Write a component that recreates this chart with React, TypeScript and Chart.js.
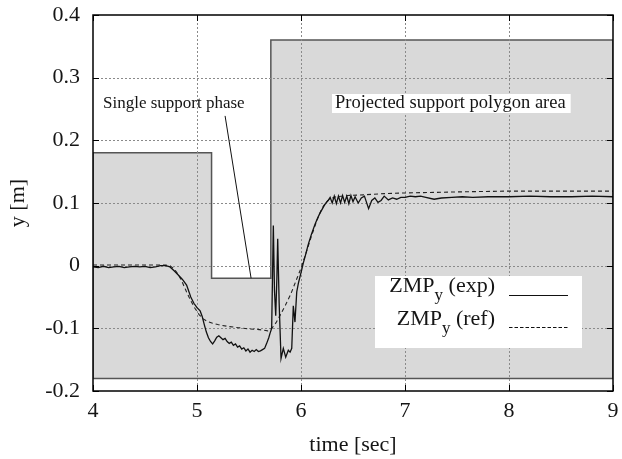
import React, { useEffect, useRef } from "react";
import { Chart, registerables } from "chart.js";

Chart.register(...registerables);

// ---- data ----
const expTime = [
  4.0, 4.05, 4.1, 4.15, 4.2, 4.25, 4.3, 4.35, 4.4, 4.45, 4.5, 4.55, 4.6, 4.65, 4.7, 4.74,
  4.78, 4.82, 4.86, 4.9, 4.94, 4.97, 5.0, 5.03, 5.05, 5.07, 5.09, 5.11, 5.13, 5.15, 5.17,
  5.19, 5.21, 5.23, 5.25, 5.27, 5.29, 5.31, 5.33, 5.35, 5.37, 5.39, 5.41, 5.43, 5.45, 5.47,
  5.49, 5.51, 5.53, 5.55, 5.57, 5.59, 5.61, 5.63, 5.65, 5.67, 5.69, 5.702, 5.718, 5.734,
  5.745, 5.757, 5.768, 5.776, 5.79, 5.808, 5.83, 5.853, 5.878, 5.895, 5.911, 5.926, 5.942,
  5.959, 5.975, 5.99, 6.005, 6.022, 6.045, 6.07, 6.1, 6.135, 6.16, 6.18, 6.2, 6.22, 6.24,
  6.26, 6.28, 6.3, 6.32, 6.34, 6.36, 6.38, 6.4, 6.42, 6.44, 6.46, 6.48, 6.5, 6.52, 6.55,
  6.58, 6.61, 6.65, 6.68, 6.71, 6.74, 6.77, 6.8, 6.84, 6.88, 6.92, 6.96, 7.0, 7.05, 7.1,
  7.15, 7.2, 7.28, 7.35, 7.45, 7.55, 7.65, 7.8, 8.0, 8.2, 8.4, 8.6, 8.8, 9.0,
];
const expY = [
  -0.002, -0.003, -0.001, -0.003, -0.002, -0.001, -0.003, -0.002, -0.001, -0.002, -0.001,
  -0.003, -0.002, 0.0, 0.0, -0.002, -0.008, -0.015, -0.022, -0.031, -0.05, -0.06, -0.067,
  -0.072, -0.081, -0.094, -0.106, -0.115, -0.121, -0.125, -0.12, -0.114, -0.112, -0.115,
  -0.118, -0.116, -0.121, -0.124, -0.122, -0.127, -0.125, -0.13, -0.128, -0.133, -0.131,
  -0.136, -0.133, -0.138, -0.135, -0.137, -0.134, -0.137, -0.136, -0.134, -0.132, -0.124,
  -0.115, -0.108, -0.1, 0.064, -0.04, -0.08, -0.02, 0.043, -0.06, -0.148, -0.132, -0.146,
  -0.135, -0.138, -0.132, -0.064, -0.09, -0.042, -0.028, -0.018, -0.008, 0.004, 0.018,
  0.034, 0.05, 0.066, 0.076, 0.083, 0.089, 0.095, 0.1, 0.104, 0.109, 0.1, 0.111, 0.099,
  0.111, 0.1, 0.112, 0.101, 0.111, 0.099, 0.112, 0.102, 0.11, 0.1, 0.108, 0.111, 0.091,
  0.104, 0.108, 0.101, 0.104, 0.111, 0.105, 0.108, 0.106, 0.109, 0.109, 0.111, 0.11,
  0.111, 0.109, 0.106, 0.108, 0.109, 0.11, 0.109, 0.11, 0.11, 0.111, 0.11, 0.11, 0.111, 0.11,
];
const refTime = [
  4.0, 4.2, 4.4, 4.6, 4.7, 4.74, 4.78, 4.82, 4.86, 4.9, 4.94, 4.98, 5.02, 5.06, 5.1, 5.15,
  5.2, 5.3, 5.4, 5.5, 5.6, 5.68, 5.72, 5.76, 5.8, 5.85, 5.9, 5.95, 6.0, 6.05, 6.1, 6.15,
  6.2, 6.24, 6.28, 6.34, 6.45, 6.6, 6.8, 7.0, 7.3, 7.6, 8.0, 8.5, 9.0,
];
const refY = [
  0.001, 0.001, 0.001, 0.001, 0.001, 0.0, -0.005, -0.014, -0.027, -0.042, -0.056, -0.068,
  -0.078, -0.085, -0.089, -0.092, -0.094, -0.097, -0.099, -0.101, -0.102, -0.104, -0.1,
  -0.091, -0.079, -0.063, -0.046, -0.025, -0.004, 0.021, 0.047, 0.071, 0.091, 0.101, 0.107,
  0.11, 0.112, 0.113, 0.115, 0.116, 0.117, 0.118, 0.119, 0.119, 0.119,
];
// projected support polygon outline (closed)
const supportX = [4, 4, 5.14, 5.14, 5.71, 5.71, 9, 9, 4];
const supportY = [-0.18, 0.18, 0.18, -0.02, -0.02, 0.36, 0.36, -0.18, -0.18];

const xTicks = [4, 5, 6, 7, 8, 9];
const xTickLabels = ["4", "5", "6", "7", "8", "9"];
const yTicks = [-0.2, -0.1, 0, 0.1, 0.2, 0.3, 0.4];
const yTickLabels = ["-0.2", "-0.1", "0", "0.1", "0.2", "0.3", "0.4"];

const xTitle = "time [sec]";
const yTitle = "y [m]";

const legendMain = ["ZMP", "ZMP"];
const legendSub = ["y", "y"];
const legendTail = [" (exp)", " (ref)"];

const singleText = "Single support phase";
const singleTextAt = [4.096, 0.2516];
const singlePointerFrom = [5.27, 0.239];
const singlePointerTo = [5.52, -0.02];
const polygonText = "Projected support polygon area";
const polygonTextAt = [6.327, 0.2516];

const FONT = '"Liberation Serif", "Times New Roman", serif';
const TEXT = "#151515";

export default function App() {
  const ref = useRef<HTMLCanvasElement | null>(null);

  useEffect(() => {
    const canvas = ref.current;
    if (!canvas) return;

    const gridPlugin = {
      id: "gridOverFill",
      afterDatasetDraw(chart: any, args: any) {
        if (args.index !== 2) return;
        const { ctx, chartArea: ca, scales } = chart;
        ctx.save();
        ctx.strokeStyle = "#8a8a8a";
        ctx.lineWidth = 1;
        ctx.setLineDash([2, 2]);
        for (const v of xTicks) {
          if (v === xTicks[0] || v === xTicks[xTicks.length - 1]) continue;
          const px = Math.round(scales.x.getPixelForValue(v)) + 0.5;
          ctx.beginPath();
          ctx.moveTo(px, ca.top);
          ctx.lineTo(px, ca.bottom);
          ctx.stroke();
        }
        for (const v of yTicks) {
          if (v === yTicks[0] || v === yTicks[yTicks.length - 1]) continue;
          const py = Math.round(scales.y.getPixelForValue(v)) + 0.5;
          ctx.beginPath();
          ctx.moveTo(ca.left, py);
          ctx.lineTo(ca.right, py);
          ctx.stroke();
        }
        ctx.restore();
      },
    };

    const overlayPlugin = {
      id: "overlay",
      afterDraw(chart: any) {
        const { ctx, chartArea: ca, scales } = chart;
        const X = (v: number) => scales.x.getPixelForValue(v);
        const Y = (v: number) => scales.y.getPixelForValue(v);
        ctx.save();

        // pointer line for single support phase
        ctx.strokeStyle = "#111";
        ctx.lineWidth = 1;
        ctx.setLineDash([]);
        ctx.beginPath();
        ctx.moveTo(X(singlePointerFrom[0]), Y(singlePointerFrom[1]));
        ctx.lineTo(X(singlePointerTo[0]), Y(singlePointerTo[1]));
        ctx.stroke();

        // single support text
        ctx.fillStyle = TEXT;
        ctx.textBaseline = "alphabetic";
        ctx.textAlign = "left";
        ctx.font = `17px ${FONT}`;
        ctx.fillText(singleText, X(singleTextAt[0]), Y(singleTextAt[1]));

        // projected polygon text with white box
        ctx.font = `18.5px ${FONT}`;
        const tx = X(polygonTextAt[0]);
        const ty = Y(polygonTextAt[1]);
        const tw = ctx.measureText(polygonText).width;
        ctx.fillStyle = "#ffffff";
        ctx.fillRect(tx - 3, ty - 14, tw + 8, 19);
        ctx.fillStyle = TEXT;
        ctx.fillText(polygonText, tx, ty);

        // legend box
        const bx = ca.left + 282;
        const by = ca.top + 261;
        ctx.fillStyle = "#ffffff";
        ctx.fillRect(bx, by, 207, 72);
        const textRight = bx + 120;
        for (let i = 0; i < legendMain.length; i++) {
          const base = by + 16 + i * 33;
          ctx.font = `22px ${FONT}`;
          const wMain = ctx.measureText(legendMain[i]).width;
          const wTail = ctx.measureText(legendTail[i]).width;
          ctx.font = `17px ${FONT}`;
          const wSub = ctx.measureText(legendSub[i]).width;
          let x0 = textRight - wTail - wSub - wMain;
          ctx.fillStyle = TEXT;
          ctx.font = `22px ${FONT}`;
          ctx.fillText(legendMain[i], x0, base);
          x0 += wMain;
          ctx.font = `17px ${FONT}`;
          ctx.fillText(legendSub[i], x0, base + 8);
          x0 += wSub;
          ctx.font = `22px ${FONT}`;
          ctx.fillText(legendTail[i], x0, base);
          // sample
          ctx.strokeStyle = "#111";
          ctx.lineWidth = 1.2;
          ctx.setLineDash(i === 0 ? [] : [3.5, 2]);
          ctx.beginPath();
          const sy = by + 19.5 + i * 32;
          ctx.moveTo(bx + 134, sy);
          ctx.lineTo(bx + 193, sy);
          ctx.stroke();
        }

        // frame and inward ticks
        ctx.setLineDash([]);
        ctx.strokeStyle = "#000";
        ctx.lineWidth = 1.5;
        ctx.strokeRect(ca.left, ca.top, ca.right - ca.left, ca.bottom - ca.top);
        ctx.lineWidth = 1;
        const tl = 6;
        for (const v of xTicks) {
          const px = Math.round(X(v)) + 0.5;
          ctx.beginPath();
          ctx.moveTo(px, ca.bottom);
          ctx.lineTo(px, ca.bottom - tl);
          ctx.moveTo(px, ca.top);
          ctx.lineTo(px, ca.top + tl);
          ctx.stroke();
        }
        for (const v of yTicks) {
          const py = Math.round(Y(v)) + 0.5;
          ctx.beginPath();
          ctx.moveTo(ca.left, py);
          ctx.lineTo(ca.left + tl, py);
          ctx.moveTo(ca.right, py);
          ctx.lineTo(ca.right - tl, py);
          ctx.stroke();
        }
        ctx.restore();
      },
    };

    const chart = new Chart(canvas, {
      type: "line",
      data: {
        datasets: [
          {
            label: "ZMPy (exp)",
            data: expTime.map((t, i) => ({ x: t, y: expY[i] })),
            borderColor: "#111",
            borderWidth: 1.3,
            pointRadius: 0,
            fill: false,
            tension: 0,
            order: 1,
          },
          {
            label: "ZMPy (ref)",
            data: refTime.map((t, i) => ({ x: t, y: refY[i] })),
            borderColor: "#222",
            borderWidth: 1.1,
            borderDash: [4, 3],
            pointRadius: 0,
            fill: false,
            tension: 0,
            order: 2,
          },
          {
            label: "support polygon",
            data: supportX.map((t, i) => ({ x: t, y: supportY[i] })),
            borderColor: "#555",
            borderWidth: 1.5,
            backgroundColor: "#d9d9d9",
            pointRadius: 0,
            fill: "shape",
            tension: 0,
            order: 3,
          },
        ],
      },
      options: {
        animation: false,
        responsive: false,
        maintainAspectRatio: false,
        devicePixelRatio: 1,
        layout: { padding: { top: 15, right: 9, left: 0, bottom: 0 } },
        plugins: { legend: { display: false }, tooltip: { enabled: false } },
        events: [],
        scales: {
          x: {
            type: "linear",
            min: 4,
            max: 9,
            grid: { display: false, drawTicks: false },
            border: { display: false },
            afterBuildTicks: (s: any) => {
              s.ticks = xTicks.map((v) => ({ value: v }));
            },
            afterFit: (s: any) => {
              s.height = 68;
              s.paddingLeft = 0;
              s.paddingRight = 0;
            },
            ticks: {
              padding: 7,
              color: TEXT,
              maxRotation: 0,
              autoSkip: false,
              font: { family: FONT, size: 22 },
              callback: (v: any) => xTickLabels[xTicks.indexOf(v)],
            },
            title: {
              display: true,
              text: xTitle,
              color: TEXT,
              font: { family: FONT, size: 22 },
              padding: { top: 0, bottom: 1 },
            },
          },
          y: {
            type: "linear",
            min: -0.2,
            max: 0.4,
            grid: { display: false, drawTicks: false },
            border: { display: false },
            afterBuildTicks: (s: any) => {
              s.ticks = yTicks.map((v) => ({ value: v }));
            },
            afterFit: (s: any) => {
              s.width = 93;
              s.paddingTop = 0;
              s.paddingBottom = 0;
            },
            ticks: {
              padding: 13,
              color: TEXT,
              autoSkip: false,
              font: { family: FONT, size: 22 },
              callback: (v: any) => yTickLabels[yTicks.indexOf(v)],
            },
            title: {
              display: true,
              text: yTitle,
              color: TEXT,
              font: { family: FONT, size: 22 },
              padding: { top: 5, bottom: 0 },
            },
          },
        },
      },
      plugins: [gridPlugin, overlayPlugin],
    });

    return () => chart.destroy();
  }, []);

  return (
    <div style={{ position: "absolute", left: 0, top: 0, width: 622, height: 459, background: "#fff" }}>
      <canvas ref={ref} width={622} height={459} style={{ width: 622, height: 459, display: "block" }} />
    </div>
  );
}
